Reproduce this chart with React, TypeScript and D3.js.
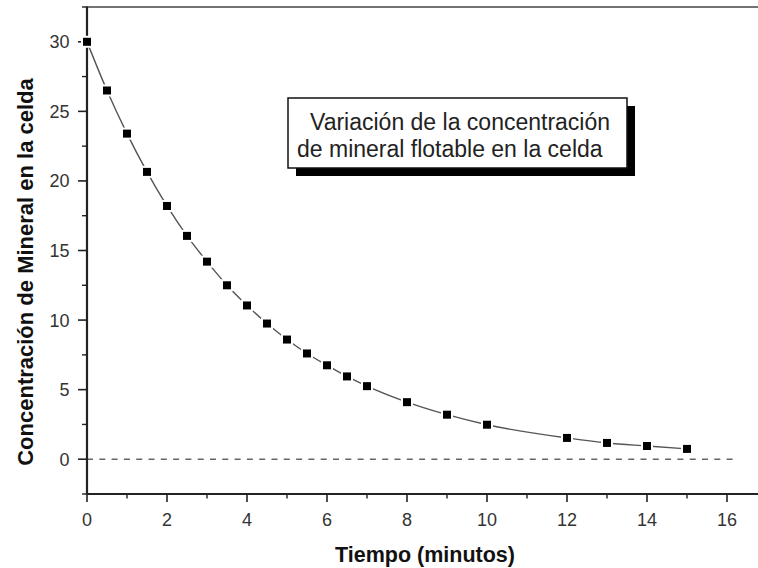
import React from "react";
import * as d3 from "d3";

// Flotation kinetics: mineral concentration remaining in the cell over time
const tiempo = [0, 0.5, 1, 1.5, 2, 2.5, 3, 3.5, 4, 4.5, 5, 5.5, 6, 6.5, 7, 8, 9, 10, 12, 13, 14, 15];
const concentracion = [
  30, 26.5, 23.4, 20.65, 18.2, 16.05, 14.2, 12.5, 11.05, 9.75, 8.6, 7.6, 6.75, 5.95, 5.25, 4.1, 3.2,
  2.48, 1.53, 1.17, 0.95, 0.74,
];

const xMajorTicks = [0, 2, 4, 6, 8, 10, 12, 14, 16];
const xMinorTicks = [1, 3, 5, 7, 9, 11, 13, 15];
const yMajorTicks = [0, 5, 10, 15, 20, 25, 30];
const yMinorTicks = [-2.5, 2.5, 7.5, 12.5, 17.5, 22.5, 27.5, 32.5];

const xTitle = "Tiempo (minutos)";
const yTitle = "Concentración de Mineral en la celda";
const legendLines = ["Variación de la concentración", "de mineral flotable en la celda"];
const baselineEnd = 16.2;

const W = 758;
const H = 568;
const FONT = "'Liberation Sans', Arial, Helvetica, sans-serif";

export default function App() {
  const x = d3.scaleLinear().domain([0, 16.8]).range([87, 759]);
  const y = d3.scaleLinear().domain([-2.5, 32.5]).range([494, 7]);

  const points = tiempo.map((t, i) => [t, concentracion[i]] as [number, number]);
  const curve = d3
    .line<[number, number]>()
    .x((d) => x(d[0]))
    .y((d) => y(d[1]))
    .curve(d3.curveMonotoneX)(points);

  const x0 = x(0);
  const yBottom = y(-2.5);
  const yTop = y(32.5);

  // legend box geometry
  const box = { x: 288, y: 98, w: 339, h: 70 };
  const shadow = 8;

  return (
    <div style={{ position: "fixed", left: 0, top: 0, width: W, height: H, background: "#fff" }}>
      <svg width={W} height={H} viewBox={`0 0 ${W} ${H}`} style={{ display: "block" }}>
        <rect x={0} y={0} width={W} height={H} fill="#fff" />

        {/* zero reference line */}
        <line
          x1={x(0)}
          x2={x(baselineEnd)}
          y1={y(0)}
          y2={y(0)}
          stroke="#666"
          strokeWidth={1.4}
          strokeDasharray="6,6.3"
        />

        {/* top frame */}
        <line x1={x0} x2={W} y1={yTop} y2={yTop} stroke="#444" strokeWidth={1.6} />

        {/* y axis */}
        <line x1={x0} x2={x0} y1={yTop - 0.5} y2={yBottom + 1} stroke="#222" strokeWidth={2.2} />
        {yMajorTicks.map((v) => (
          <g key={`ym${v}`}>
            <line x1={x0 - 9} x2={x0} y1={y(v)} y2={y(v)} stroke="#222" strokeWidth={1.6} />
            <text
              x={69.5}
              y={y(v)}
              dy="0.36em"
              textAnchor="end"
              fontFamily={FONT}
              fontSize={18}
              fill="#333"
            >
              {v}
            </text>
          </g>
        ))}
        {yMinorTicks.map((v) => (
          <line key={`yn${v}`} x1={x0 - 5} x2={x0} y1={y(v)} y2={y(v)} stroke="#222" strokeWidth={1.4} />
        ))}

        {/* x axis */}
        <line x1={x0 - 1} x2={W} y1={yBottom} y2={yBottom} stroke="#222" strokeWidth={2.2} />
        {xMajorTicks.map((v) => (
          <g key={`xm${v}`}>
            <line x1={x(v)} x2={x(v)} y1={yBottom} y2={yBottom + 8} stroke="#222" strokeWidth={1.6} />
            <text
              x={x(v)}
              y={526}
              textAnchor="middle"
              fontFamily={FONT}
              fontSize={18}
              fill="#333"
            >
              {v}
            </text>
          </g>
        ))}
        {xMinorTicks.map((v) => (
          <line key={`xn${v}`} x1={x(v)} x2={x(v)} y1={yBottom} y2={yBottom + 4.5} stroke="#222" strokeWidth={1.4} />
        ))}

        {/* axis titles */}
        <text
          x={425}
          y={562}
          textAnchor="middle"
          fontFamily={FONT}
          fontWeight="bold"
          fontSize={21.5}
          fill="#111"
        >
          {xTitle}
        </text>
        <text
          transform={`translate(32.5, 272) rotate(-90)`}
          textAnchor="middle"
          fontFamily={FONT}
          fontWeight="bold"
          fontSize={22}
          fill="#111"
        >
          {yTitle}
        </text>

        {/* decay curve */}
        <path d={curve ?? ""} fill="none" stroke="#555" strokeWidth={1.4} />

        {/* measured points */}
        {points.map(([t, c], i) => (
          <g key={`p${i}`}>
            <rect x={x(t) - 6} y={y(c) - 6} width={12} height={12} fill="#fff" />
            <rect x={x(t) - 4} y={y(c) - 4} width={8} height={8} fill="#000" />
          </g>
        ))}

        {/* legend box with drop shadow */}
        <rect x={box.x + shadow} y={box.y + shadow} width={box.w} height={box.h} fill="#000" />
        <rect x={box.x} y={box.y} width={box.w} height={box.h} fill="#fff" stroke="#111" strokeWidth={1.5} />
        <text x={310} y={130} fontFamily={FONT} fontSize={23} fill="#222">
          {legendLines[0]}
        </text>
        <text x={297} y={157} fontFamily={FONT} fontSize={23} fill="#222">
          {legendLines[1]}
        </text>
      </svg>
    </div>
  );
}
